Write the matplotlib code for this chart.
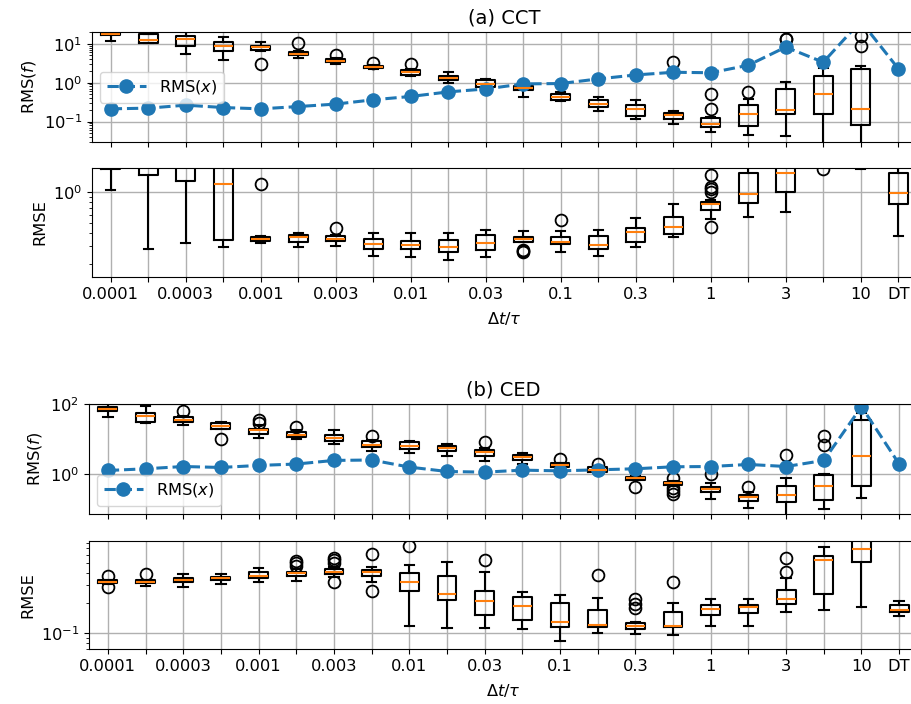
import numpy as np
import matplotlib
matplotlib.use("Agg")
import matplotlib.pyplot as plt

plt.rcParams['font.size'] = 11.7
plt.rcParams['legend.handlelength'] = 2.4

# step sizes on x axis
dt_labels = ["0.0001", "0.0002", "0.0003", "0.0005", "0.001", "0.002", "0.003", "0.005",
             "0.01", "0.02", "0.03", "0.05", "0.1", "0.2", "0.3", "0.5",
             "1", "2", "3", "5", "10", "DT"]
shown_labels = ["0.0001", "0.0003", "0.001", "0.003", "0.01", "0.03", "0.1", "0.3", "1", "3", "10", "DT"]

# (a) CCT - RMS(f) boxes (no box for DT)
cct_f_whislo = [11.7, 10.4, 5.6, 3.9, 6.7, 4.3, 3.1, 2.3, 1.46, 1.0, 0.77, 0.42, 0.34, 0.19, 0.117, 0.087, 0.055, 0.045, 0.043, 0.02, 0.015]
cct_f_q1 = [16.4, 10.6, 8.7, 6.4, 6.8, 5.0, 3.35, 2.35, 1.61, 1.15, 0.79, 0.63, 0.36, 0.235, 0.14, 0.12, 0.074, 0.078, 0.158, 0.158, 0.082]
cct_f_med = [18.1, 12.4, 12.9, 9.0, 8.4, 5.5, 3.7, 2.55, 1.84, 1.29, 0.94, 0.72, 0.43, 0.29, 0.21, 0.149, 0.085, 0.16, 0.2, 0.5, 0.21]
cct_f_q3 = [21.0, 17.4, 15.7, 11.0, 9.0, 6.07, 4.1, 2.75, 2.08, 1.52, 1.15, 0.84, 0.51, 0.35, 0.265, 0.164, 0.125, 0.265, 0.68, 1.46, 2.2]
cct_f_whishi = [24.0, 18.1, 19.9, 15.2, 11.2, 6.4, 4.25, 2.85, 2.26, 1.84, 1.26, 0.89, 0.56, 0.44, 0.35, 0.19, 0.13, 0.38, 1.02, 2.39, 2.75]
cct_f_fliers = [[], [], [], [], [3.1], [10.6], [5.0], [3.2], [3.1], [], [], [], [], [], [], [3.35],
                [0.21, 0.51], [0.575], [12.9, 13.5], [], [8.7, 15.7]]
cct_rms_x = [0.213, 0.222, 0.265, 0.23, 0.213, 0.244, 0.282, 0.364, 0.443, 0.58, 0.69, 0.93, 0.95,
             1.25, 1.58, 1.85, 1.8, 2.8, 8.2, 3.35, 38.0, 2.3]

# (a) CCT - RMSE boxes
cct_e_whislo = [1.05, 0.28, 0.317, 0.296, 0.32, 0.292, 0.303, 0.24, 0.235, 0.217, 0.235, 0.327, 0.265, 0.242, 0.29, 0.366, 0.55, 0.567, 0.64, 1.75, 1.66, 0.374]
cct_e_q1 = [1.67, 1.45, 1.27, 0.34, 0.337, 0.331, 0.337, 0.283, 0.281, 0.263, 0.275, 0.327, 0.313, 0.281, 0.327, 0.394, 0.669, 0.79, 1.0, 2.2, 2.5, 0.764]
cct_e_med = [2.0, 2.0, 1.9, 1.19, 0.35, 0.363, 0.354, 0.313, 0.308, 0.296, 0.32, 0.354, 0.329, 0.308, 0.409, 0.46, 0.764, 0.96, 1.54, 2.8, 3.2, 0.98]
cct_e_q3 = [2.4, 2.5, 2.4, 2.0, 0.366, 0.379, 0.377, 0.354, 0.337, 0.342, 0.379, 0.366, 0.366, 0.371, 0.447, 0.575, 0.80, 1.53, 2.2, 3.5, 4.0, 1.53]
cct_e_whishi = [2.8, 3.0, 3.0, 2.5, 0.371, 0.40, 0.385, 0.40, 0.40, 0.40, 0.424, 0.415, 0.415, 0.428, 0.563, 0.764, 0.83, 1.9, 3.0, 4.5, 5.0, 1.9]
cct_e_fliers = [[], [], [], [], [1.2], [], [0.443], [], [], [], [], [0.262, 0.268, 0.275], [0.538], [], [], [],
                [0.46, 1.0, 1.06, 1.12, 1.45], [], [], [1.67], [], []]

# (b) CED - RMS(f) boxes (no box for DT)
ced_f_whislo = [42, 28, 25, 20, 10.8, 10.1, 7.4, 4.46, 4.1, 3.36, 2.3, 1.98, 1.55, 1.12, 0.66, 0.47, 0.195, 0.105, 0.06, 0.103, 0.213]
ced_f_q1 = [63, 31, 30.4, 20, 14.4, 11.8, 9.06, 5.8, 5.3, 4.7, 3.36, 2.58, 1.59, 1.16, 0.69, 0.48, 0.3, 0.171, 0.157, 0.18, 0.47]
ced_f_med = [74, 45, 36, 23.3, 17.9, 13.2, 10.8, 6.95, 6.5, 5.6, 4.2, 3.0, 1.85, 1.33, 0.77, 0.55, 0.37, 0.218, 0.254, 0.46, 3.36]
ced_f_q3 = [84, 57, 42, 29, 20, 16.1, 12.9, 8.6, 8.3, 6.5, 5.0, 3.6, 2.07, 1.65, 0.85, 0.6, 0.44, 0.25, 0.46, 0.94, 34.7]
ced_f_whishi = [97, 88, 45, 31, 25, 17.6, 17.6, 9.2, 9.06, 7.4, 5.4, 4.0, 2.1, 1.75, 0.88, 0.62, 0.57, 0.3, 0.77, 1.02, 55]
ced_f_fliers = [[], [], [63], [10.3], [29, 34], [22.4], [], [12.6], [], [], [8.3], [], [2.7], [2.0], [0.44],
                [0.8, 0.4, 0.33, 0.28], [1.04], [0.44], [3.6], [6.6, 12.5], []]
ced_rms_x = [1.27, 1.42, 1.65, 1.55, 1.77, 1.94, 2.46, 2.53, 1.59, 1.19, 1.14, 1.3, 1.24, 1.33,
             1.42, 1.62, 1.65, 1.89, 1.65, 2.46, 84.0, 1.94]

# (b) CED - RMSE boxes
ced_e_whislo = [0.31, 0.299, 0.292, 0.308, 0.322, 0.33, 0.36, 0.322, 0.119, 0.113, 0.112, 0.11, 0.084, 0.102, 0.099, 0.096, 0.119, 0.119, 0.165, 0.172, 0.185, 0.15]
ced_e_q1 = [0.318, 0.318, 0.325, 0.338, 0.353, 0.373, 0.387, 0.375, 0.267, 0.214, 0.151, 0.137, 0.116, 0.116, 0.111, 0.115, 0.152, 0.158, 0.195, 0.249, 0.513, 0.162]
ced_e_med = [0.325, 0.327, 0.341, 0.353, 0.375, 0.396, 0.411, 0.405, 0.327, 0.247, 0.209, 0.189, 0.1286, 0.122, 0.119, 0.119, 0.176, 0.182, 0.219, 0.537, 0.686, 0.172]
ced_e_q3 = [0.338, 0.338, 0.356, 0.366, 0.409, 0.409, 0.435, 0.428, 0.401, 0.375, 0.263, 0.231, 0.203, 0.172, 0.128, 0.163, 0.192, 0.193, 0.271, 0.592, 0.9, 0.192]
ced_e_whishi = [0.342, 0.342, 0.387, 0.39, 0.45, 0.435, 0.46, 0.461, 0.478, 0.516, 0.405, 0.259, 0.242, 0.224, 0.13, 0.203, 0.22, 0.22, 0.354, 0.727, 1.2, 0.211]
ced_e_fliers = [[0.373, 0.292], [0.387], [], [], [], [0.468, 0.498, 0.528], [0.322, 0.498, 0.535, 0.566],
                [0.265, 0.611], [0.743], [], [0.537], [], [], [0.381], [0.177, 0.197, 0.221], [0.325],
                [], [], [0.411, 0.566], [], [], []]


def make_stats(lo, q1, med, q3, hi, fl):
    # bxp wants a list of dicts
    return [dict(whislo=a, q1=b, med=c, q3=d, whishi=e, fliers=f)
            for a, b, c, d, e, f in zip(lo, q1, med, q3, hi, fl)]


def draw_boxes(ax, stats):
    pos = np.arange(1, len(stats) + 1)
    ax.bxp(stats, positions=pos, widths=0.5, manage_ticks=False,
           boxprops=dict(color="black", linewidth=1.5),
           whiskerprops=dict(color="black", linewidth=1.5),
           capprops=dict(color="black", linewidth=1.5),
           medianprops=dict(color="#ff7f0e", linewidth=1.5),
           flierprops=dict(marker="o", markerfacecolor="none", markeredgecolor="black",
                           markersize=8.5, markeredgewidth=1.3))


def deco(ax, ylab, with_labels):
    n = len(dt_labels)
    ax.set_yscale("log")
    ax.set_xlim(0.5, n + 0.5)
    ax.set_xticks(np.arange(1, n + 1))
    if with_labels:
        labs = [l if l in shown_labels else "" for l in dt_labels]
        ax.set_xticklabels(labs)
        ax.set_xlabel(r"$\Delta t/\tau$", labelpad=6)
    else:
        ax.set_xticklabels([])
    ax.set_ylabel(ylab)
    ax.grid(True, color="#b0b0b0", linewidth=1.0)
    ax.set_axisbelow(True)


fig = plt.figure(figsize=(9.12, 7.04), dpi=100)

groups = [
    ("(a) CCT", 92, [32, 142, 168, 277], (0.03, 20), (0.15, 1.71), "center left",
     make_stats(cct_f_whislo, cct_f_q1, cct_f_med, cct_f_q3, cct_f_whishi, cct_f_fliers),
     make_stats(cct_e_whislo, cct_e_q1, cct_e_med, cct_e_q3, cct_e_whishi, cct_e_fliers),
     cct_rms_x, 825),
    ("(b) CED", 89, [404, 514, 541, 649], (0.073, 100), (0.07, 0.83), "lower left",
     make_stats(ced_f_whislo, ced_f_q1, ced_f_med, ced_f_q3, ced_f_whishi, ced_f_fliers),
     make_stats(ced_e_whislo, ced_e_q1, ced_e_med, ced_e_q3, ced_e_whishi, ced_e_fliers),
     ced_rms_x, 829),
]

W, H = 912.0, 704.0
for title, left, ys, ylim_f, ylim_e, loc, st_f, st_e, rms_x, width in groups:
    ax1 = fig.add_axes([left / W, 1 - ys[1] / H, width / W, (ys[1] - ys[0]) / H])
    ax2 = fig.add_axes([left / W, 1 - ys[3] / H, width / W, (ys[3] - ys[2]) / H])

    draw_boxes(ax1, st_f)
    ax1.plot(np.arange(1, len(rms_x) + 1), rms_x, "o--", color="#1f77b4",
             linewidth=2.2, markersize=9.5, label=r"RMS($x$)")
    deco(ax1, r"RMS($f$)", False)
    ax1.set_ylim(*ylim_f)
    ax1.set_title(title)
    ax1.legend(loc=loc)

    draw_boxes(ax2, st_e)
    deco(ax2, "RMSE", True)
    ax2.set_ylim(*ylim_e)

fig.savefig("out.png", dpi=100)
